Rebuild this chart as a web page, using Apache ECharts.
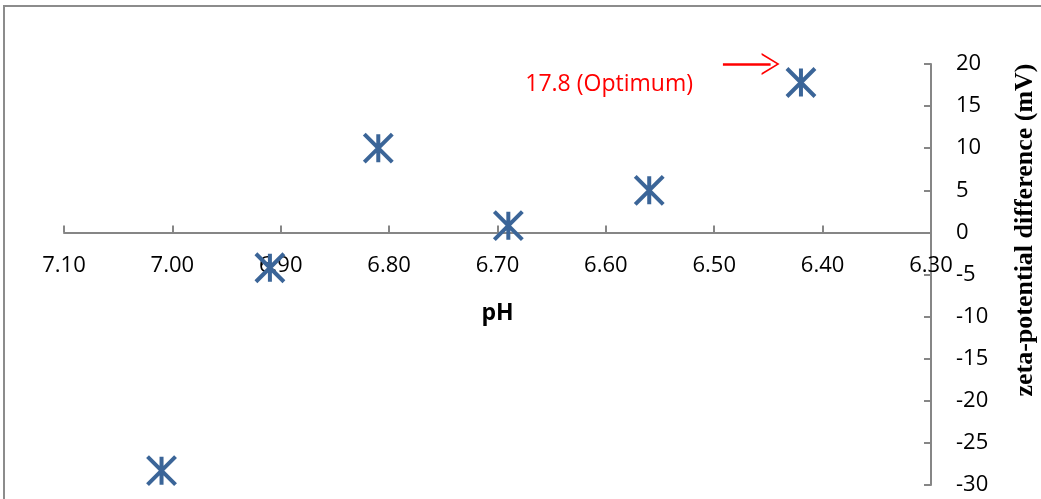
<!DOCTYPE html>
<html>
<head>
<meta charset="utf-8">
<script src="https://cdn.jsdelivr.net/npm/echarts@6/dist/echarts.min.js"></script>
<style>
    html, body { margin: 0; padding: 0; background: #fff; }
    #myChart { width: 1041px; height: 499px; }
</style>
</head>
<body>
<div id="myChart"></div>
<script>
// pH readings and zeta-potential difference (mV)
var phValues = [7.01, 6.91, 6.81, 6.69, 6.56, 6.42];
var zetaValues = [-28.3, -4.2, 10.0, 0.8, 5.0, 17.8];
var optimumText = '17.8 (Optimum)';
var optimumLabelAt = [6.597, 17.6];
var arrowFrom = [6.492, 20.0];
var arrowTo = [6.448, 20.0];

var axisGray = '#868686';
var markBlue = '#3b6598';

var points = [];
for (var i = 0; i < phValues.length; i++) {
    points.push([phValues[i], zetaValues[i]]);
}

var myChart = echarts.init(document.getElementById('myChart'));

var labelFont = { fontFamily: 'Open Sans', fontSize: 22, color: '#000' };

var option = {
    animation: false,
    backgroundColor: '#fff',
    grid: { left: 64, right: 110, top: 64, bottom: 14, containLabel: false, outerBoundsMode: 'none' },
    graphic: [
        {
            type: 'rect',
            shape: { x: 4, y: 6, width: 1200, height: 700 },
            style: { fill: 'none', stroke: '#8c8c8c', lineWidth: 2 },
            silent: true
        },
        {
            type: 'text',
            x: 1025,
            y: 230,
            rotation: Math.PI / 2,
            style: {
                text: 'zeta-potential difference (mV)',
                font: 'bold 26px "Liberation Serif", serif',
                fill: '#000',
                align: 'center',
                verticalAlign: 'middle'
            }
        }
    ],
    xAxis: [
        {
            // axis line and ticks, crossing at zero
            type: 'value',
            inverse: true,
            min: 6.3,
            max: 7.1,
            interval: 0.1,
            axisLine: { onZero: true, lineStyle: { color: axisGray, width: 2 } },
            axisTick: { inside: true, length: 7, lineStyle: { color: axisGray, width: 2 } },
            axisLabel: { show: false },
            splitLine: { show: false }
        },
        {
            // tick labels and name, lifted up to the zero line
            type: 'value',
            position: 'bottom',
            offset: -253,
            inverse: true,
            min: 6.3,
            max: 7.1,
            interval: 0.1,
            name: 'pH',
            nameLocation: 'middle',
            nameGap: 70,
            nameTextStyle: { fontFamily: 'Open Sans', fontWeight: 'bold', fontSize: 23, color: '#000' },
            axisLine: { show: false, onZero: false },
            axisTick: { show: false },
            axisLabel: Object.assign({
                margin: 23,
                formatter: function (v) { return v.toFixed(2); }
            }, labelFont),
            splitLine: { show: false }
        }
    ],
    yAxis: {
        type: 'value',
        position: 'right',
        min: -30,
        max: 20,
        interval: 5,
        axisLine: { lineStyle: { color: axisGray, width: 2 } },
        axisTick: { show: true, inside: true, length: 7, lineStyle: { color: axisGray, width: 2 } },
        axisLabel: Object.assign({ margin: 25 }, labelFont),
        splitLine: { show: false }
    },
    series: [
        {
            type: 'scatter',
            xAxisIndex: 0,
            data: points,
            symbol: 'path://M0,0L10,10M10,0L0,10M5,0L5,10',
            symbolSize: 28,
            itemStyle: { color: markBlue, borderColor: markBlue, borderWidth: 4, opacity: 1 },
            markPoint: {
                silent: true,
                symbol: 'circle',
                symbolSize: 0,
                data: [{ coord: optimumLabelAt, value: optimumText }],
                label: {
                    show: true,
                    position: 'inside',
                    formatter: optimumText,
                    fontFamily: 'Open Sans',
                    fontSize: 23,
                    color: '#ff0000'
                }
            },
            markLine: {
                silent: true,
                symbol: ['none', 'path://M0,18L11,0L22,18L20,18L11,3L2,18Z'],
                symbolSize: [22, 18],
                label: { show: false },
                lineStyle: { color: '#ff0000', width: 2.5, type: 'solid' },
                data: [[{ coord: arrowFrom }, { coord: arrowTo }]]
            }
        }
    ]
};

myChart.setOption(option);
</script>
</body>
</html>
